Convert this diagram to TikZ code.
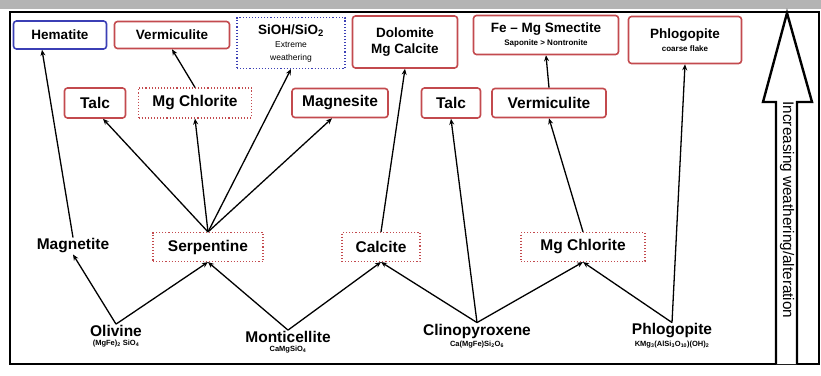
\documentclass[tikz,border=0pt]{standalone}
\usepackage{fontspec}
\setmainfont{Liberation Sans}
\usepackage{tikz}
\usetikzlibrary{arrows.meta,positioning}
\usepackage{xcolor}
\definecolor{boxred}{HTML}{C34A4E}
\definecolor{boxblue}{HTML}{3B3FB5}
\definecolor{band}{HTML}{B4B4B4}
\newcommand{\subnote}{\fontsize{8.5}{10}\selectfont\mdseries}
\newcommand{\chemsub}[1]{\textsubscript{#1}}
\tikzset{
  mineral/.style={draw=boxred,line width=1.6pt,rounded corners=3pt,fill=white,
    align=center,inner sep=1pt,font=\fontsize{15.5}{17}\selectfont\bfseries},
  topmineral/.style={mineral,font=\fontsize{13.5}{15.5}\selectfont\bfseries},
  dotmineral/.style={mineral,rounded corners=0pt,line width=1.1pt,dotted},
  bluemineral/.style={topmineral,draw=boxblue},
  bluedot/.style={topmineral,draw=boxblue,rounded corners=0pt,line width=1.1pt,dotted},
  parent/.style={inner sep=1pt,font=\fontsize{15.5}{17}\selectfont\bfseries},
  formula/.style={inner sep=0.5pt,font=\fontsize{7.5}{8}\selectfont\bfseries},
  arrow/.style={-{Stealth[length=6pt,width=5pt]},draw=black,line width=1.3pt},
  bigarrow/.style={draw=black,line width=2.4pt,line join=miter,fill=white}
}

\begin{document}
\begin{tikzpicture}[x=1pt,y=-1pt,node distance=1pt]
  \useasboundingbox (0,0) rectangle (821,375);
  \fill[band] (0,0) rectangle (821,9);
  \draw[line width=2.5pt] (10,12) rectangle (819,364);

  % top row
  \node[bluemineral,minimum width=93pt,minimum height=28pt] (hematite) at (60,35) {Hematite};
  \node[topmineral,minimum width=115pt,minimum height=27pt] (verma) at (172,35) {Vermiculite};
  \node[bluedot,minimum width=108pt,minimum height=51pt] (sioh) at (291,43)
    {SiOH/SiO\chemsub{2}\\[-2pt]{\subnote Extreme}\\[-3pt]{\subnote weathering}};
  \node[topmineral,minimum width=105pt,minimum height=52pt] (dolomite) at (405,42)
    {Dolomite\\Mg Calcite};
  \node[topmineral,minimum width=145pt,minimum height=39pt] (smectite) at (546,35)
    {Fe -- Mg Smectite\\[-3pt]{\fontsize{8}{9}\selectfont Saponite > Nontronite}};
  \node[topmineral,minimum width=113pt,minimum height=47pt] (phlogb) at (685,40)
    {Phlogopite\\[-2pt]{\fontsize{8}{9}\selectfont coarse flake}};

  % middle row
  \node[mineral,minimum width=61pt,minimum height=30pt] (talca) at (95,103) {Talc};
  \node[dotmineral,minimum width=113pt,minimum height=30pt] (chlora) at (195,103) {Mg Chlorite};
  \node[mineral,minimum width=96pt,minimum height=29pt] (magnesite) at (340,103) {Magnesite};
  \node[mineral,minimum width=59pt,minimum height=30pt] (talcb) at (451,103) {Talc};
  \node[mineral,minimum width=114pt,minimum height=29pt] (vermb) at (549,103) {Vermiculite};

  % first products
  \node[parent] (magnetite) at (73,246) {Magnetite};
  \node[dotmineral,minimum width=110pt,minimum height=29pt] (serpentine) at (208,247) {Serpentine};
  \node[dotmineral,minimum width=78pt,minimum height=29pt] (calcite) at (381,247) {Calcite};
  \node[dotmineral,minimum width=124pt,minimum height=29pt] (chlorb) at (583,247) {Mg Chlorite};

  % parent minerals
  \node[parent] (olivine) at (116,331) {Olivine};
  \node[formula,below=of olivine] (olivinef) {(MgFe)\chemsub{2} SiO\chemsub{4}};
  \node[parent] (monticellite) at (288,337) {Monticellite};
  \node[formula,below=of monticellite] (monticellitef) {CaMgSiO\chemsub{4}};
  \node[parent] (cpx) at (477,331) {Clinopyroxene};
  \node[formula,below=of cpx] (cpxf) {Ca(MgFe)Si\chemsub{2}O\chemsub{6}};
  \node[parent] (phloga) at (672,331) {Phlogopite};
  \node[formula,below=of phloga] (phlogaf) {KMg\chemsub{3}(AlSi\chemsub{3}O\chemsub{10})(OH)\chemsub{2}};

  \draw[arrow] (olivine.north) -- (magnetite.south);
  \draw[arrow] (olivine.north) -- (serpentine.south);
  \draw[arrow] (monticellite.north) -- (serpentine.south);
  \draw[arrow] (monticellite.north) -- (calcite.south);
  \draw[arrow] (cpx.north) -- (calcite.south);
  \draw[arrow] (cpx.north) -- (chlorb.south);
  \draw[arrow] (cpx.north) -- (talcb.south);
  \draw[arrow] (phloga.north) -- (chlorb.south);
  \draw[arrow] (phloga.north) -- (phlogb.south);
  \draw[arrow] (magnetite.north) -- ([xshift=-18pt]hematite.south);
  \draw[arrow] (serpentine.north) -- ([xshift=8pt]talca.south);
  \draw[arrow] (serpentine.north) -- (chlora.south);
  \draw[arrow] (serpentine.north) -- (sioh.south);
  \draw[arrow] (serpentine.north) -- ([xshift=-8pt]magnesite.south);
  \draw[arrow] (chlora.north) -- (verma.south);
  \draw[arrow] (calcite.north) -- (dolomite.south);
  \draw[arrow] (chlorb.north) -- (vermb.south);
  \draw[arrow] (vermb.north) -- (smectite.south);

  \draw[bigarrow] (776,364) -- (776,102) -- (763,102) -- (787,13) -- (812,102)
    -- (797,102) -- (797,364);
  \node[rotate=-90,font=\fontsize{15.3}{17}\selectfont] (trend) at (787,210)
    {Increasing weathering/alteration};
\end{tikzpicture}
\end{document}
